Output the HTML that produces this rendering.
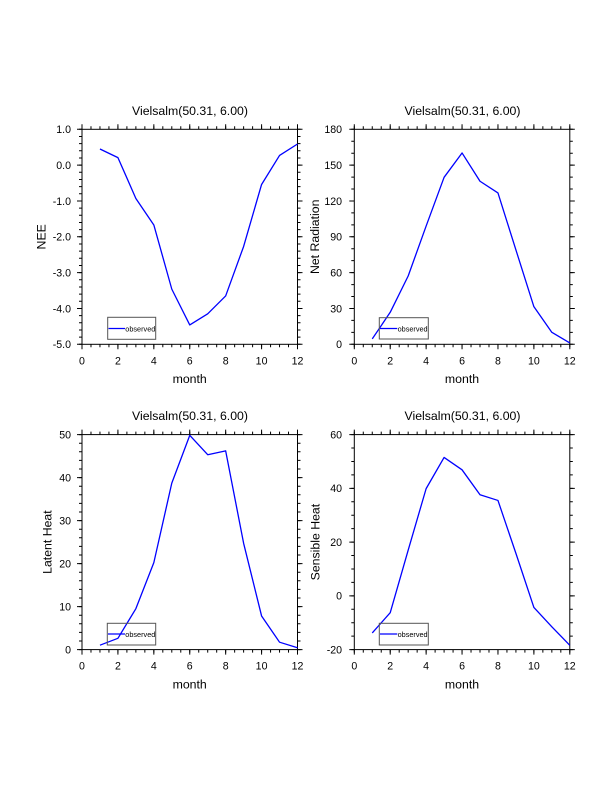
<!DOCTYPE html>
<html>
<head>
<meta charset="utf-8">
<style>
html,body{margin:0;padding:0;background:#fff;}
svg{display:block;}
text{font-family:"Liberation Sans",Arial,Helvetica,sans-serif;fill:#000;}
.tl{font-size:10.6px;}
.ttl{font-size:12.3px;text-anchor:middle;}
.ax{font-size:12.3px;text-anchor:middle;}
.lg{font-size:7.3px;}
.fr{fill:none;stroke:#000;stroke-width:1;}
.tk{stroke:#000;fill:none;}
.cv{fill:none;stroke:#0000ff;stroke-width:1.3;stroke-linejoin:round;}
.lb{fill:none;stroke:#555;stroke-width:1;}
</style>
</head>
<body>
<svg width="612" height="792" viewBox="0 0 612 792" xmlns="http://www.w3.org/2000/svg">
<rect width="612" height="792" fill="#fff"/>

<!-- ================= Panel 1: NEE ================= -->
<g>
<rect class="fr" x="82" y="129.3" width="215.5" height="215"/>
<!-- x ticks bottom/top -->
<line class="tk" x1="81.5" y1="345.8" x2="298" y2="345.8" stroke-width="3" stroke-dasharray="1 7.979"/>
<line class="tk" x1="81.5" y1="346.8" x2="298" y2="346.8" stroke-width="5" stroke-dasharray="1 34.917"/>
<line class="tk" x1="81.5" y1="127.8" x2="298" y2="127.8" stroke-width="3" stroke-dasharray="1 7.979"/>
<line class="tk" x1="81.5" y1="126.8" x2="298" y2="126.8" stroke-width="5" stroke-dasharray="1 34.917"/>
<!-- y ticks left/right -->
<line class="tk" x1="80.5" y1="128.8" x2="80.5" y2="344.8" stroke-width="3" stroke-dasharray="1 6.1667"/>
<line class="tk" x1="79.5" y1="128.8" x2="79.5" y2="344.8" stroke-width="5" stroke-dasharray="1 34.833"/>
<line class="tk" x1="299" y1="128.8" x2="299" y2="344.8" stroke-width="3" stroke-dasharray="1 6.1667"/>
<line class="tk" x1="300" y1="128.8" x2="300" y2="344.8" stroke-width="5" stroke-dasharray="1 34.833"/>
<!-- y labels -->
<g class="tl" text-anchor="end">
<text x="71" y="133.1">1.0</text>
<text x="71" y="168.9">0.0</text>
<text x="71" y="204.8">-1.0</text>
<text x="71" y="240.6">-2.0</text>
<text x="71" y="276.4">-3.0</text>
<text x="71" y="312.3">-4.0</text>
<text x="71" y="348.1">-5.0</text>
</g>
<g class="tl" text-anchor="middle">
<text x="82" y="364.4">0</text>
<text x="117.92" y="364.4">2</text>
<text x="153.83" y="364.4">4</text>
<text x="189.75" y="364.4">6</text>
<text x="225.67" y="364.4">8</text>
<text x="261.58" y="364.4">10</text>
<text x="297.5" y="364.4">12</text>
</g>
<text class="ttl" x="190" y="115">Vielsalm(50.31, 6.00)</text>
<text class="ax" x="189.7" y="383">month</text>
<text class="ax" transform="translate(45.5,236.8) rotate(-90)">NEE</text>
<polyline class="cv" points="99.96,149.01 117.92,157.61 135.87,198.46 153.83,224.97 171.79,289.12 189.75,324.95 207.71,313.84 225.66,295.92 243.62,246.47 261.58,184.48 279.54,155.46 297.5,143.99"/>
<rect class="lb" x="107.7" y="317.3" width="48" height="22"/>
<line x1="108.5" y1="328.5" x2="125" y2="328.5" stroke="#0000ff" stroke-width="1.2"/>
<text class="lg" x="125.3" y="331.3">observed</text>
</g>

<!-- ================= Panel 2: Net Radiation ================= -->
<g>
<rect class="fr" x="354.3" y="129.3" width="215.5" height="215"/>
<line class="tk" x1="353.8" y1="345.8" x2="570.3" y2="345.8" stroke-width="3" stroke-dasharray="1 7.979"/>
<line class="tk" x1="353.8" y1="346.8" x2="570.3" y2="346.8" stroke-width="5" stroke-dasharray="1 34.917"/>
<line class="tk" x1="353.8" y1="127.8" x2="570.3" y2="127.8" stroke-width="3" stroke-dasharray="1 7.979"/>
<line class="tk" x1="353.8" y1="126.8" x2="570.3" y2="126.8" stroke-width="5" stroke-dasharray="1 34.917"/>
<line class="tk" x1="352.8" y1="128.8" x2="352.8" y2="344.8" stroke-width="3" stroke-dasharray="1 10.944"/>
<line class="tk" x1="351.8" y1="128.8" x2="351.8" y2="344.8" stroke-width="5" stroke-dasharray="1 34.833"/>
<line class="tk" x1="571.3" y1="128.8" x2="571.3" y2="344.8" stroke-width="3" stroke-dasharray="1 10.944"/>
<line class="tk" x1="572.3" y1="128.8" x2="572.3" y2="344.8" stroke-width="5" stroke-dasharray="1 34.833"/>
<g class="tl" text-anchor="end">
<text x="342" y="133.1">180</text>
<text x="342" y="168.9">150</text>
<text x="342" y="204.8">120</text>
<text x="342" y="240.6">90</text>
<text x="342" y="276.4">60</text>
<text x="342" y="312.3">30</text>
<text x="342" y="348.1">0</text>
</g>
<g class="tl" text-anchor="middle">
<text x="354.3" y="364.4">0</text>
<text x="390.22" y="364.4">2</text>
<text x="426.13" y="364.4">4</text>
<text x="462.05" y="364.4">6</text>
<text x="497.97" y="364.4">8</text>
<text x="533.88" y="364.4">10</text>
<text x="569.8" y="364.4">12</text>
</g>
<text class="ttl" x="462.5" y="115">Vielsalm(50.31, 6.00)</text>
<text class="ax" x="462" y="383">month</text>
<text class="ax" transform="translate(319,236.8) rotate(-90)">Net Radiation</text>
<polyline class="cv" points="372.26,338.92 390.22,312.29 408.17,275.98 426.13,226.05 444.09,177.32 462.05,152.95 480.01,181.26 497.96,192.96 515.92,249.94 533.88,306.67 551.84,332.36 569.8,342.99"/>
<rect class="lb" x="379.3" y="317.7" width="49" height="21.3"/>
<line x1="380" y1="328.5" x2="397.3" y2="328.5" stroke="#0000ff" stroke-width="1.2"/>
<text class="lg" x="397.6" y="331.3">observed</text>
</g>

<!-- ================= Panel 3: Latent Heat ================= -->
<g>
<rect class="fr" x="82" y="434.6" width="215.5" height="215"/>
<line class="tk" x1="81.5" y1="651.1" x2="298" y2="651.1" stroke-width="3" stroke-dasharray="1 7.979"/>
<line class="tk" x1="81.5" y1="652.1" x2="298" y2="652.1" stroke-width="5" stroke-dasharray="1 34.917"/>
<line class="tk" x1="81.5" y1="433.1" x2="298" y2="433.1" stroke-width="3" stroke-dasharray="1 7.979"/>
<line class="tk" x1="81.5" y1="432.1" x2="298" y2="432.1" stroke-width="5" stroke-dasharray="1 34.917"/>
<line class="tk" x1="80.5" y1="434.1" x2="80.5" y2="650.1" stroke-width="3" stroke-dasharray="1 7.6"/>
<line class="tk" x1="79.5" y1="434.1" x2="79.5" y2="650.1" stroke-width="5" stroke-dasharray="1 42"/>
<line class="tk" x1="299" y1="434.1" x2="299" y2="650.1" stroke-width="3" stroke-dasharray="1 7.6"/>
<line class="tk" x1="300" y1="434.1" x2="300" y2="650.1" stroke-width="5" stroke-dasharray="1 42"/>
<g class="tl" text-anchor="end">
<text x="71" y="438.4">50</text>
<text x="71" y="481.4">40</text>
<text x="71" y="524.4">30</text>
<text x="71" y="567.4">20</text>
<text x="71" y="610.4">10</text>
<text x="71" y="653.4">0</text>
</g>
<g class="tl" text-anchor="middle">
<text x="82" y="669.5">0</text>
<text x="117.92" y="669.5">2</text>
<text x="153.83" y="669.5">4</text>
<text x="189.75" y="669.5">6</text>
<text x="225.67" y="669.5">8</text>
<text x="261.58" y="669.5">10</text>
<text x="297.5" y="669.5">12</text>
</g>
<text class="ttl" x="190" y="420">Vielsalm(50.31, 6.00)</text>
<text class="ax" x="189.7" y="688.5">month</text>
<text class="ax" transform="translate(51.5,542.1) rotate(-90)">Latent Heat</text>
<polyline class="cv" points="99.96,645.2 117.92,638.32 135.87,608.65 153.83,562.64 171.79,483.09 189.75,435.36 207.71,454.71 225.66,450.84 243.62,543.29 261.58,615.96 279.54,642.19 297.5,647.78"/>
<rect class="lb" x="107.3" y="623.3" width="48.4" height="21.7"/>
<line x1="108" y1="634" x2="125" y2="634" stroke="#0000ff" stroke-width="1.2"/>
<text class="lg" x="125.3" y="636.8">observed</text>
</g>

<!-- ================= Panel 4: Sensible Heat ================= -->
<g>
<rect class="fr" x="354.3" y="434.6" width="215.5" height="215"/>
<line class="tk" x1="353.8" y1="651.1" x2="570.3" y2="651.1" stroke-width="3" stroke-dasharray="1 7.979"/>
<line class="tk" x1="353.8" y1="652.1" x2="570.3" y2="652.1" stroke-width="5" stroke-dasharray="1 34.917"/>
<line class="tk" x1="353.8" y1="433.1" x2="570.3" y2="433.1" stroke-width="3" stroke-dasharray="1 7.979"/>
<line class="tk" x1="353.8" y1="432.1" x2="570.3" y2="432.1" stroke-width="5" stroke-dasharray="1 34.917"/>
<line class="tk" x1="352.8" y1="434.1" x2="352.8" y2="650.1" stroke-width="3" stroke-dasharray="1 12.4375"/>
<line class="tk" x1="351.8" y1="434.1" x2="351.8" y2="650.1" stroke-width="5" stroke-dasharray="1 52.75"/>
<line class="tk" x1="571.3" y1="434.1" x2="571.3" y2="650.1" stroke-width="3" stroke-dasharray="1 12.4375"/>
<line class="tk" x1="572.3" y1="434.1" x2="572.3" y2="650.1" stroke-width="5" stroke-dasharray="1 52.75"/>
<g class="tl" text-anchor="end">
<text x="342" y="438.4">60</text>
<text x="342" y="492.2">40</text>
<text x="342" y="545.9">20</text>
<text x="342" y="599.7">0</text>
<text x="342" y="653.4">-20</text>
</g>
<g class="tl" text-anchor="middle">
<text x="354.3" y="669.5">0</text>
<text x="390.22" y="669.5">2</text>
<text x="426.13" y="669.5">4</text>
<text x="462.05" y="669.5">6</text>
<text x="497.97" y="669.5">8</text>
<text x="533.88" y="669.5">10</text>
<text x="569.8" y="669.5">12</text>
</g>
<text class="ttl" x="462.5" y="420">Vielsalm(50.31, 6.00)</text>
<text class="ax" x="462" y="688.5">month</text>
<text class="ax" transform="translate(319.5,542.1) rotate(-90)">Sensible Heat</text>
<polyline class="cv" points="372.26,632.94 390.22,612.65 408.17,550.16 426.13,488.62 444.09,457.44 462.05,469.81 480.01,494.8 497.96,500.44 515.92,553.39 533.88,607.41 551.84,626.76 569.8,645.3"/>
<rect class="lb" x="379.3" y="623.3" width="49" height="21.7"/>
<line x1="380" y1="634" x2="397.3" y2="634" stroke="#0000ff" stroke-width="1.2"/>
<text class="lg" x="397.6" y="636.8">observed</text>
</g>
</svg>
</body>
</html>
